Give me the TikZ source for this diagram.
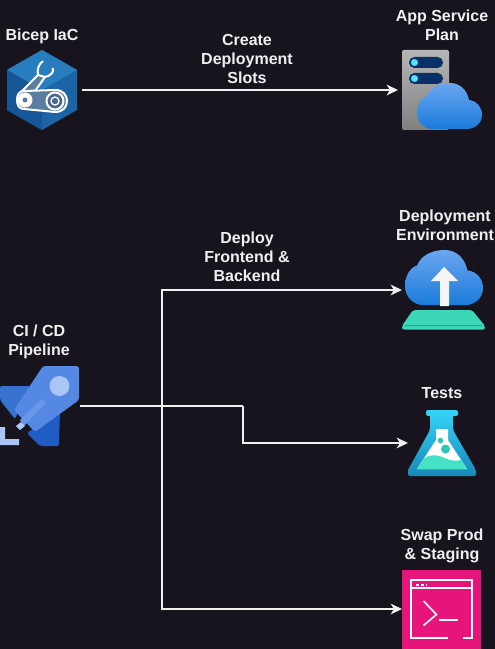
\documentclass[tikz,border=0pt]{standalone}
\usepackage{fontspec}
\setmainfont{Liberation Sans}
\usetikzlibrary{arrows.meta}
\definecolor{bgdark}{HTML}{18141D}
\definecolor{wirecol}{HTML}{F0F0F0}
\definecolor{cloudtop}{HTML}{6BA6F0}
\definecolor{cloudlow}{HTML}{1A7BDA}
\tikzset{
  wire/.style={draw=wirecol,line width=1.5pt},
  arrowwire/.style={wire,-{Stealth[length=8.5pt,width=8pt,inset=2.5pt]}},
  iconbox/.style={inner sep=0pt,outer sep=0pt,minimum height=60pt},
  caption/.style={text=wirecol,font=\bfseries\fontsize{12}{14.4}\selectfont,align=center,inner sep=0pt},
  pics/cloudicon/.style={code={
    \shade [top color=cloudtop,bottom color=cloudlow] (16,46) .. controls (7,46) and (0,39) .. (0,30) .. controls (0,21) and (5,14) .. (10,13) .. controls (13,5) and (22,0) .. (33,0) .. controls (43,0) and (50,7) .. (52,17) .. controls (60,18) and (65,24) .. (65,32) .. controls (65,40) and (58,46) .. (50,46) -- cycle ;
  }},
}
\begin{document}
\begin{tikzpicture}[x=0.75pt,y=0.75pt,yscale=-1,xscale=1]
\useasboundingbox (0,0) rectangle (495,649);
\fill [bgdark] (0,0) rectangle (495,649);

%Bicep hexagon
\fill [color={rgb, 255:red, 27; green, 100; blue, 165 }] (42,50) -- (77,70) -- (77,110) -- (42,130) -- (7,110) -- (7,70) -- cycle ;
\fill [color={rgb, 255:red, 40; green, 125; blue, 190 }] (42,50) -- (77,70) -- (42,90) -- (7,70) -- cycle ;
\fill [color={rgb, 255:red, 22; green, 85; blue, 150 }] (42,90) -- (42,130) -- (7,110) -- (7,70) -- cycle ;
\draw [white,line width=1.5pt,fill={rgb, 255:red, 90; green, 125; blue, 160 }] (19,94) -- (38,75) -- (45,77) -- (33,94) ;
\draw [white,line width=1.5pt] (38,75) .. controls (37,70) and (38,65) .. (43,61) ;
\draw [white,line width=1.5pt] (45,77) .. controls (50,76) and (54,73) .. (53,68) ;
\draw [white,line width=1.5pt,fill={rgb, 255:red, 90; green, 125; blue, 160 }] (24,91) -- (55,90) .. controls (63,90) and (67,95) .. (67,101) .. controls (67,107) and (63,112) .. (55,112) -- (24,109) .. controls (19,109) and (17,105) .. (17,100) .. controls (17,95) and (19,91) .. (24,91) -- cycle ;
\fill [white] (25,100) circle [radius=7.5] ;
\fill [color={rgb, 255:red, 90; green, 125; blue, 160 }] (25,100) circle [radius=2.5] ;
\draw [white,line width=1.5pt,fill={rgb, 255:red, 70; green, 105; blue, 145 }] (55,101) circle [radius=8.5] ;
\draw [white,line width=1pt] (55,101) circle [radius=4] ;

%App service plan
\shade [top color={rgb, 255:red, 182; green, 182; blue, 182 },bottom color={rgb, 255:red, 128; green, 128; blue, 128 },rounded corners=1.5pt] (402,50) rectangle (449,130) ;
\fill [color={rgb, 255:red, 10; green, 48; blue, 104 },rounded corners=4pt] (409,57) rectangle (443,68) ;
\fill [color={rgb, 255:red, 10; green, 48; blue, 104 },rounded corners=4pt] (409,73) rectangle (443,84) ;
\fill [color={rgb, 255:red, 80; green, 230; blue, 255 }] (414.5,62.5) circle [radius=3.5] ;
\fill [color={rgb, 255:red, 80; green, 230; blue, 255 }] (414.5,78.5) circle [radius=3.5] ;
\pic [yscale=-1] at (417,83) {cloudicon};

%Deployment environment
\pic [yscale=-1.2,xscale=1.2] at (405,250) {cloudicon};
\fill [color={rgb, 255:red, 245; green, 245; blue, 245 }] (444,267) -- (458,281) -- (449,281) -- (449,306) -- (440,306) -- (440,281) -- (431,281) -- cycle ;
\fill [color={rgb, 255:red, 60; green, 214; blue, 184 },rounded corners=1.5pt] (413,310) -- (472,310) -- (485,326) -- (485,329.5) -- (402,329.5) -- (402,326) -- cycle ;
\fill [color={rgb, 255:red, 42; green, 168; blue, 148 }] (405,325) -- (482,325) -- (483,326) -- (404,326) -- cycle ;

%Rocket
\fill [color={rgb, 255:red, 56; green, 114; blue, 208 },rounded corners=1.5pt] (0,386) -- (30,386) -- (15,419) -- (0,400) -- cycle ;
\fill [color={rgb, 255:red, 31; green, 92; blue, 196 },rounded corners=1.5pt] (60,410) -- (59,446) -- (40,446) -- (27,433) -- cycle ;
\fill [color={rgb, 255:red, 84; green, 136; blue, 226 },rounded corners=2pt] (79,366) -- (43,366) -- (14,410) -- (35,432) -- (79,400) -- cycle ;
\fill [color={rgb, 255:red, 170; green, 198; blue, 245 }] (59.5,386) circle [radius=10] ;
\fill [color={rgb, 255:red, 104; green, 152; blue, 235 }] (42,399) -- (46,403) -- (24,426) -- (20,420) -- cycle ;
\fill [color={rgb, 255:red, 170; green, 198; blue, 245 }] (16,426) -- (21,422) -- (25,426) -- (20,430) -- cycle ;
\fill [color={rgb, 255:red, 170; green, 198; blue, 245 }] (0,427) -- (5,427) -- (5,439) -- (19,439) -- (19,445) -- (0,445) -- cycle ;

%Tests flask
\shade [top color={rgb, 255:red, 50; green, 208; blue, 245 },bottom color={rgb, 255:red, 25; green, 135; blue, 185 },rounded corners=1.5pt] (430,414) -- (453,414) -- (453,430) -- (476,470) -- (476,476) -- (408,476) -- (408,470) -- (430,430) -- cycle ;
\fill [color={rgb, 255:red, 50; green, 208; blue, 245 },rounded corners=1.5pt] (426,410) rectangle (458,416) ;
\fill [white] (436,429) -- (448,429) -- (448,440) -- (467,469) -- (417,469) -- (436,440) -- cycle ;
\fill [color={rgb, 255:red, 70; green, 224; blue, 196 }] (424.5,458) .. controls (433,453) and (441,456) .. (447,459) .. controls (452,461) and (457,461) .. (461,460) -- (467,469) -- (417,469) -- cycle ;
\fill [color={rgb, 255:red, 45; green, 200; blue, 180 }] (440.5,440.5) circle [radius=2.8] ;
\fill [color={rgb, 255:red, 45; green, 200; blue, 180 }] (445.5,449) circle [radius=4.5] ;

%Swap terminal
\fill [color={rgb, 255:red, 231; green, 21; blue, 123 }] (402,570) rectangle (481,649) ;
\draw [white,line width=1pt] (448,638) -- (411,638) -- (411,580) -- (472,580) -- (472,638) -- (463,638) ;
\draw [white,line width=1pt] (411,588) -- (472,588) ;
\draw [white,line width=1.2pt,dash pattern=on 2pt off 1.7pt] (416,585) -- (427,585) ;
\draw [white,line width=1.2pt] (423.5,601) -- (436.5,614.5) -- (423.5,625.5) ;
\draw [white,line width=1.2pt] (439,620) -- (458,620) ;

% Icon nodes
\node (bicep) at (42,90) [iconbox,minimum width=60pt] {};
\node (appPlan) at (442,90) [iconbox,minimum width=66pt] {};
\node (deployEnv) at (444,290) [iconbox,minimum width=63pt] {};
\node (pipeline) at (40,406) [iconbox,minimum width=60pt] {};
\node (tests) at (442,443) [iconbox,minimum width=51pt] {};
\node (swap) at (442,609) [iconbox,minimum width=60pt] {};
\coordinate (fork) at (162,406);
\coordinate (elbow) at (243,406);

%Connectors
\draw [arrowwire] (bicep.east) -- (appPlan.west);
\draw [wire] (pipeline.east) -- (elbow);
\draw [arrowwire] (fork) |- (deployEnv.west);
\draw [arrowwire] (elbow) |- (tests.west);
\draw [arrowwire] (fork) |- (swap.west);

% Text Node
\node (bicepText) at (42,36) [caption] {Bicep IaC};
\node (appText) at (442,25) [caption] {App Service\\Plan};
\node (slotText) at (247,59) [caption] {Create\\Deployment\\Slots};
\node (deployText) at (247,257) [caption] {Deploy\\Frontend \&\\Backend};
\node (envText) at (445,225) [caption] {Deployment\\Environment};
\node (ciText) at (39,342) [caption] {CI / CD\\Pipeline};
\node (testsText) at (442,393) [caption] {Tests};
\node (swapText) at (442,546) [caption] {Swap Prod\\\& Staging};
\end{tikzpicture}
\end{document}
